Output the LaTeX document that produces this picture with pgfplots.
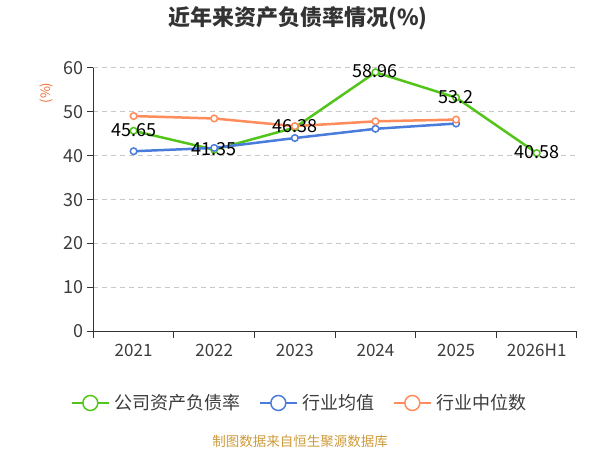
\documentclass[border=0pt]{standalone}
\usepackage{pgfplots}
\pgfplotsset{compat=1.18}
\usepackage{fontspec}
\setmainfont{Noto Sans CJK SC}
\definecolor{cgreen}{RGB}{82,196,26}
\definecolor{cblue}{RGB}{74,124,220}
\definecolor{corange}{RGB}{255,140,90}
\definecolor{axisc}{RGB}{51,51,51}
\definecolor{ticktext}{RGB}{60,60,60}
\definecolor{gridc}{RGB}{200,200,200}
\definecolor{srcc}{RGB}{205,155,60}
\definecolor{ylab}{RGB}{240,110,50}
\begin{document}
\begin{tikzpicture}
\useasboundingbox (-93.3pt,-118.5pt) rectangle (506.7pt,331.5pt);
\begin{axis}[
  at={(0pt,0pt)}, anchor=south west,
  scale only axis, width=483.7pt, height=263.8pt,
  xmin=-0.5, xmax=5.5, ymin=0, ymax=60,
  xtick={0,1,2,3,4,5},
  xticklabels={2021,2022,2023,2024,2025,2026H1},
  minor xtick={-0.5,0.5,1.5,2.5,3.5,4.5,5.5},
  ytick={0,10,20,30,40,50,60},
  axis x line=bottom, axis y line=left,
  axis line style={-, draw=axisc, line width=1pt},
  tick align=outside,
  major tick length=6pt, minor tick length=6pt,
  major x tick style={draw=none},
  minor x tick style={draw=axisc, line width=1pt},
  major y tick style={draw=axisc, line width=1pt},
  ymajorgrids,
  major y grid style={draw=gridc, line width=1pt, dash pattern=on 5pt off 4pt},
  tick label style={font=\fontsize{17}{19}\selectfont, text=ticktext},
  yticklabel style={font=\fontsize{18}{20}\selectfont},
  /pgf/number format/assume math mode=true,
  xticklabel style={yshift=-3pt},
  clip=false,
  legend columns=3,
  legend style={draw=none, fill=none, at={(0.427,-0.271)}, anchor=center,
    font=\fontsize{18}{20}\selectfont, text=ticktext,
    /tikz/every even column/.append style={column sep=16pt},
    /tikz/every odd column/.append style={column sep=3pt}},
  legend image code/.code={%
    \draw[line width=2pt] (0pt,0pt) -- (37pt,0pt);
    \draw[line width=1.5pt, fill=white] (18.5pt,0pt) circle (7.5pt);},
]
\addplot[cgreen, line width=2.5pt, mark=*, mark size=3.3pt, mark options={fill=white, line width=1.5pt}]
  coordinates {(0,45.65) (1,41.35) (2,46.38) (3,58.96) (4,53.2) (5,40.58)};
\addlegendentry{公司资产负债率}
\addplot[cblue, line width=2.5pt, mark=*, mark size=3.3pt, mark options={fill=white, line width=1.5pt}]
  coordinates {(0,41.0) (1,41.75) (2,44.0) (3,46.1) (4,47.3)};
\addlegendentry{行业均值}
\addplot[corange, line width=2.5pt, mark=*, mark size=3.3pt, mark options={fill=white, line width=1.5pt}]
  coordinates {(0,49.0) (1,48.45) (2,46.7) (3,47.8) (4,48.2)};
\addlegendentry{行业中位数}
\addplot[draw=none, mark=none, forget plot, point meta=explicit symbolic,
  nodes near coords, nodes near coords align={center},
  nodes near coords style={anchor=center, font=\fontsize{18}{20}\selectfont, text=black, yshift=1pt}]
  coordinates {(0,45.65) [45.65] (1,41.35) [41.35] (2,46.38) [46.38] (3,58.96) [58.96] (4,53.2) [53.2] (5,40.58) [40.58]};
\end{axis}
\node[font=\bfseries\fontsize{22}{24}\selectfont, text=axisc] at (204.7pt,313.5pt) {近年来资产负债率情况(\%)};
\node[rotate=90, font=\fontsize{13}{15}\selectfont, text=ylab] at (-46.6pt,238.5pt) {(\%)};
\node[font=\fontsize{13.5}{15}\selectfont, text=srcc] at (206.7pt,-109.5pt) {制图数据来自恒生聚源数据库};
\end{tikzpicture}
\end{document}
